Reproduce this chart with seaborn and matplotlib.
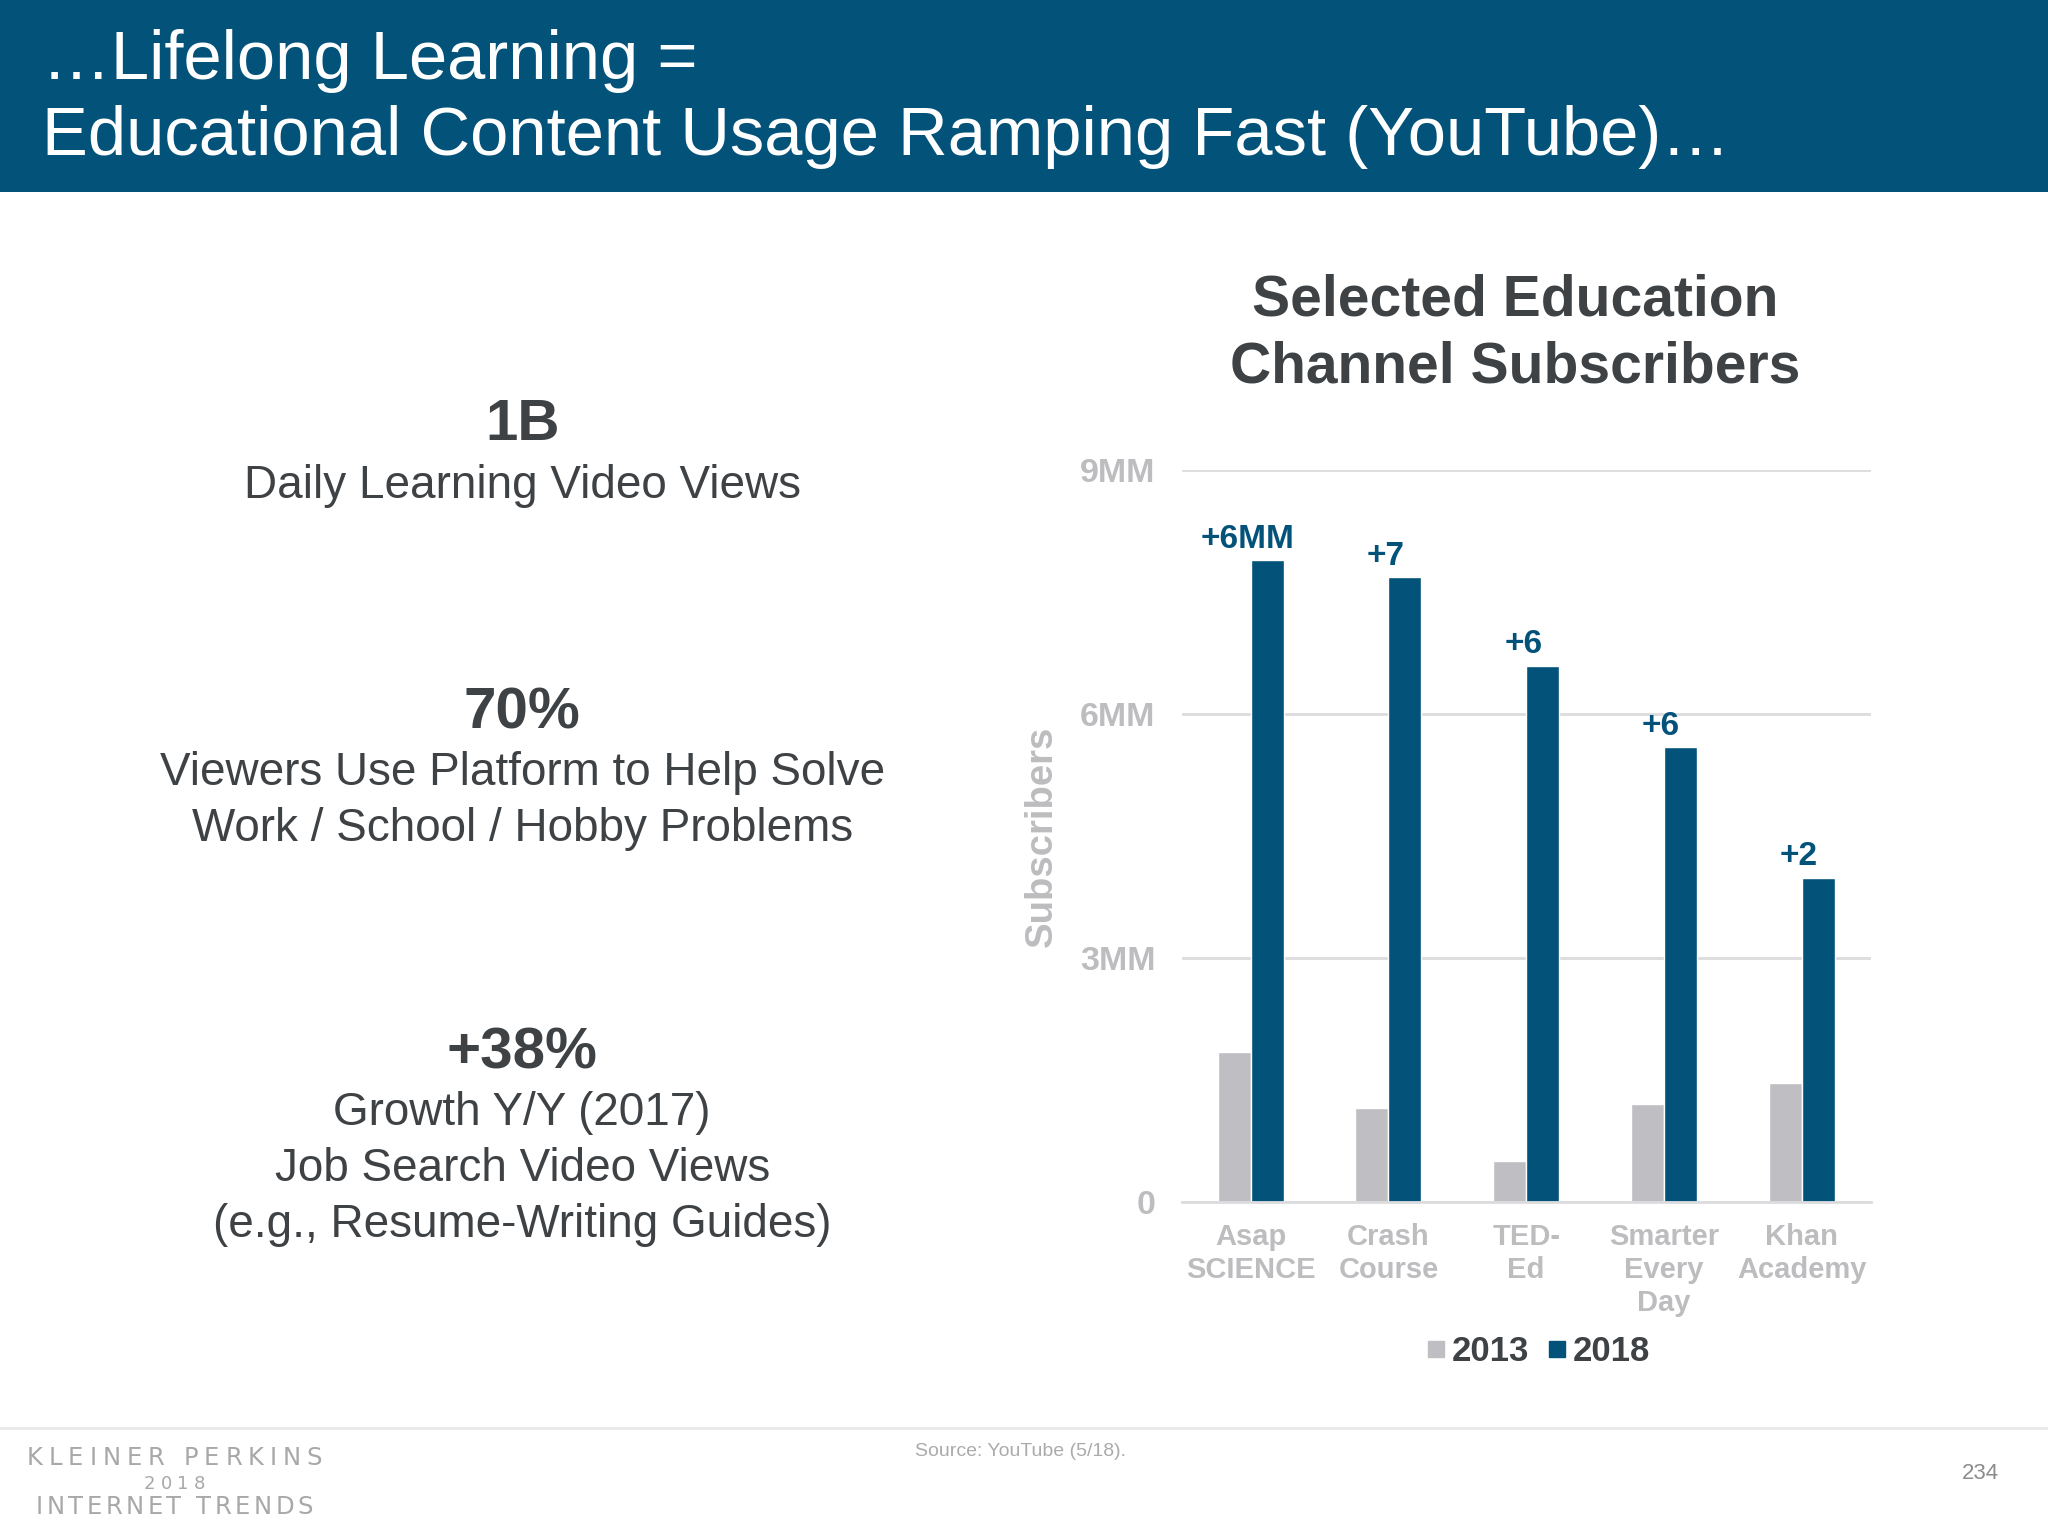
import matplotlib
matplotlib.use("Agg")
import matplotlib.pyplot as plt
from matplotlib.lines import Line2D
from matplotlib.textpath import TextToPath
from matplotlib.font_manager import FontProperties
import seaborn as sns
import pandas as pd

# data (millions of subscribers)
channels = ["Asap\nSCIENCE", "Crash\nCourse", "TED-\nEd", "Smarter\nEvery\nDay", "Khan\nAcademy"]
subs_2013 = [1.85, 1.16, 0.51, 1.21, 1.46]
subs_2018 = [7.89, 7.68, 6.59, 5.59, 3.99]
growth_labels = ["+6MM", "+7", "+6", "+6", "+2"]
years = ["2013", "2018"]
y_ticks = [0, 3, 6, 9]
y_ticklabels = ["0", "3MM", "6MM", "9MM"]

BLUE = "#02527A"
GRAY_BAR = "#BFBEC2"
TXT = "#3F4245"
TICK = "#BDBDC0"
GRID = "#DCDCDE"
W, H = 2048, 1536

sns.set_style("white")
plt.rcParams['font.family'] = ['Liberation Sans', 'DejaVu Sans']

df = pd.DataFrame({
    "channel": channels * 2,
    "year": [years[0]] * len(channels) + [years[1]] * len(channels),
    "subs": subs_2013 + subs_2018,
})

fig = plt.figure(figsize=(W / 100, H / 100), dpi=100)
fig.patch.set_facecolor("white")


def spaced_text(xc, y, s, size, width_px, color, family="DejaVu Sans", weight="normal"):
    # letter-spaced text, one glyph at a time, centred on xc
    prop = FontProperties(family=family, size=size, weight=weight)
    t2p = TextToPath()
    ws = [t2p.get_text_width_height_descent(c, prop, ismath=False)[0] * 100 / 72 for c in s]
    track = (width_px - sum(ws)) / (len(s) - 1)
    x = xc * W - width_px / 2
    for c, w in zip(s, ws):
        fig.text(x / W, y, c, fontproperties=prop, color=color, ha="left", va="center")
        x += w + track


# header band
fig.patches.append(plt.Rectangle((0, 0.875), 1, 0.125, transform=fig.transFigure,
                                 facecolor=BLUE, edgecolor="none", zorder=0))
fig.text(0.0205, 0.9600, "\u2026Lifelong Learning =", color="white", fontsize=49.5,
         va="center", ha="left")
fig.text(0.0205, 0.9105, "Educational Content Usage Ramping Fast (YouTube)\u2026",
         color="white", fontsize=49.5, va="center", ha="left")

# left-hand stats
cx = 0.255
dy = -0.0026
fig.text(cx, 0.726 + dy, "1B", fontsize=42, fontweight="bold", color=TXT, ha="center", va="center")
fig.text(cx, 0.686 + dy, "Daily Learning Video Views", fontsize=33, color=TXT, ha="center", va="center")
fig.text(cx, 0.538 + dy, "70%", fontsize=42, fontweight="bold", color=TXT, ha="center", va="center")
fig.text(cx, 0.481 + dy, "Viewers Use Platform to Help Solve\nWork / School / Hobby Problems",
         fontsize=33, color=TXT, ha="center", va="center", linespacing=1.36)
fig.text(cx, 0.317 + dy, "+38%", fontsize=42, fontweight="bold", color=TXT, ha="center", va="center")
fig.text(cx, 0.2415 + dy, "Growth Y/Y (2017)\nJob Search Video Views\n(e.g., Resume-Writing Guides)",
         fontsize=33, color=TXT, ha="center", va="center", linespacing=1.36)

# chart title
fig.text(0.7398, 0.7825, "Selected Education\nChannel Subscribers", fontsize=41,
         fontweight="bold", color=TXT, ha="center", va="center", linespacing=1.3)

ax = fig.add_axes([0.577, 0.2174, 0.3364, 0.4766])
sns.barplot(data=df, x="channel", y="subs", hue="year", palette=[GRAY_BAR, BLUE],
            width=0.48, gap=0, ax=ax, legend=False, saturation=1, errorbar=None)

for bar, lab in zip(ax.containers[1], growth_labels):
    ax.annotate(lab, (bar.get_x() + bar.get_width() / 2, bar.get_height()),
                xytext=(-14, 4), textcoords="offset points", ha="center", va="bottom",
                fontsize=24, fontweight="bold", color=BLUE)

ax.set_ylim(0, 9)
ax.set_xlim(-0.5, 4.5)
ax.set_yticks(y_ticks)
ax.set_yticklabels(y_ticklabels)
ax.yaxis.grid(True, color=GRID, linewidth=2)
ax.set_axisbelow(True)
for s in ["top", "right", "left"]:
    ax.spines[s].set_visible(False)
ax.spines["bottom"].set_color(GRID)
ax.spines["bottom"].set_linewidth(2)
ax.tick_params(axis="y", length=0, pad=19, labelsize=24.5, labelcolor=TICK)
ax.tick_params(axis="x", length=0, pad=15, labelsize=21, labelcolor=TICK)
for t in ax.get_yticklabels() + ax.get_xticklabels():
    t.set_fontweight("bold")
for t in ax.get_xticklabels():
    t.set_linespacing(1.22)
ax.set_xlabel("")
ax.set_ylabel("Subscribers", fontsize=27.5, fontweight="bold", color=TICK)
ax.yaxis.set_label_coords(-0.177, 0.5)

handles = [Line2D([], [], marker="s", linestyle="none", markersize=11, color=c)
           for c in [GRAY_BAR, BLUE]]
leg = fig.legend(handles, years, loc="center", bbox_to_anchor=(0.751, 0.1198), ncol=2,
                 frameon=False, handlelength=0.6, handletextpad=0.15, columnspacing=0.5,
                 prop={"size": 25, "weight": "bold"})
for t in leg.get_texts():
    t.set_color(TXT)

# footer
fig.add_artist(Line2D([0, 1], [0.0703, 0.0703], transform=fig.transFigure,
                      color="#E8E8E8", linewidth=2))
spaced_text(0.0852, 0.0508, "KLEINER PERKINS", 17.5, 295, "#A8A8A8")
spaced_text(0.0852, 0.0339, "2018", 13, 61, "#A8A8A8")
spaced_text(0.0852, 0.0189, "INTERNET TRENDS", 17.5, 277, "#A8A8A8")
fig.text(0.447, 0.0553, "Source: YouTube (5/18).", fontsize=14, color="#ABABAB",
         ha="left", va="center")
fig.text(0.967, 0.0404, "234", fontsize=16, color="#8C8C8C", ha="center", va="center")

fig.savefig("out.png", dpi=100, facecolor="white")
